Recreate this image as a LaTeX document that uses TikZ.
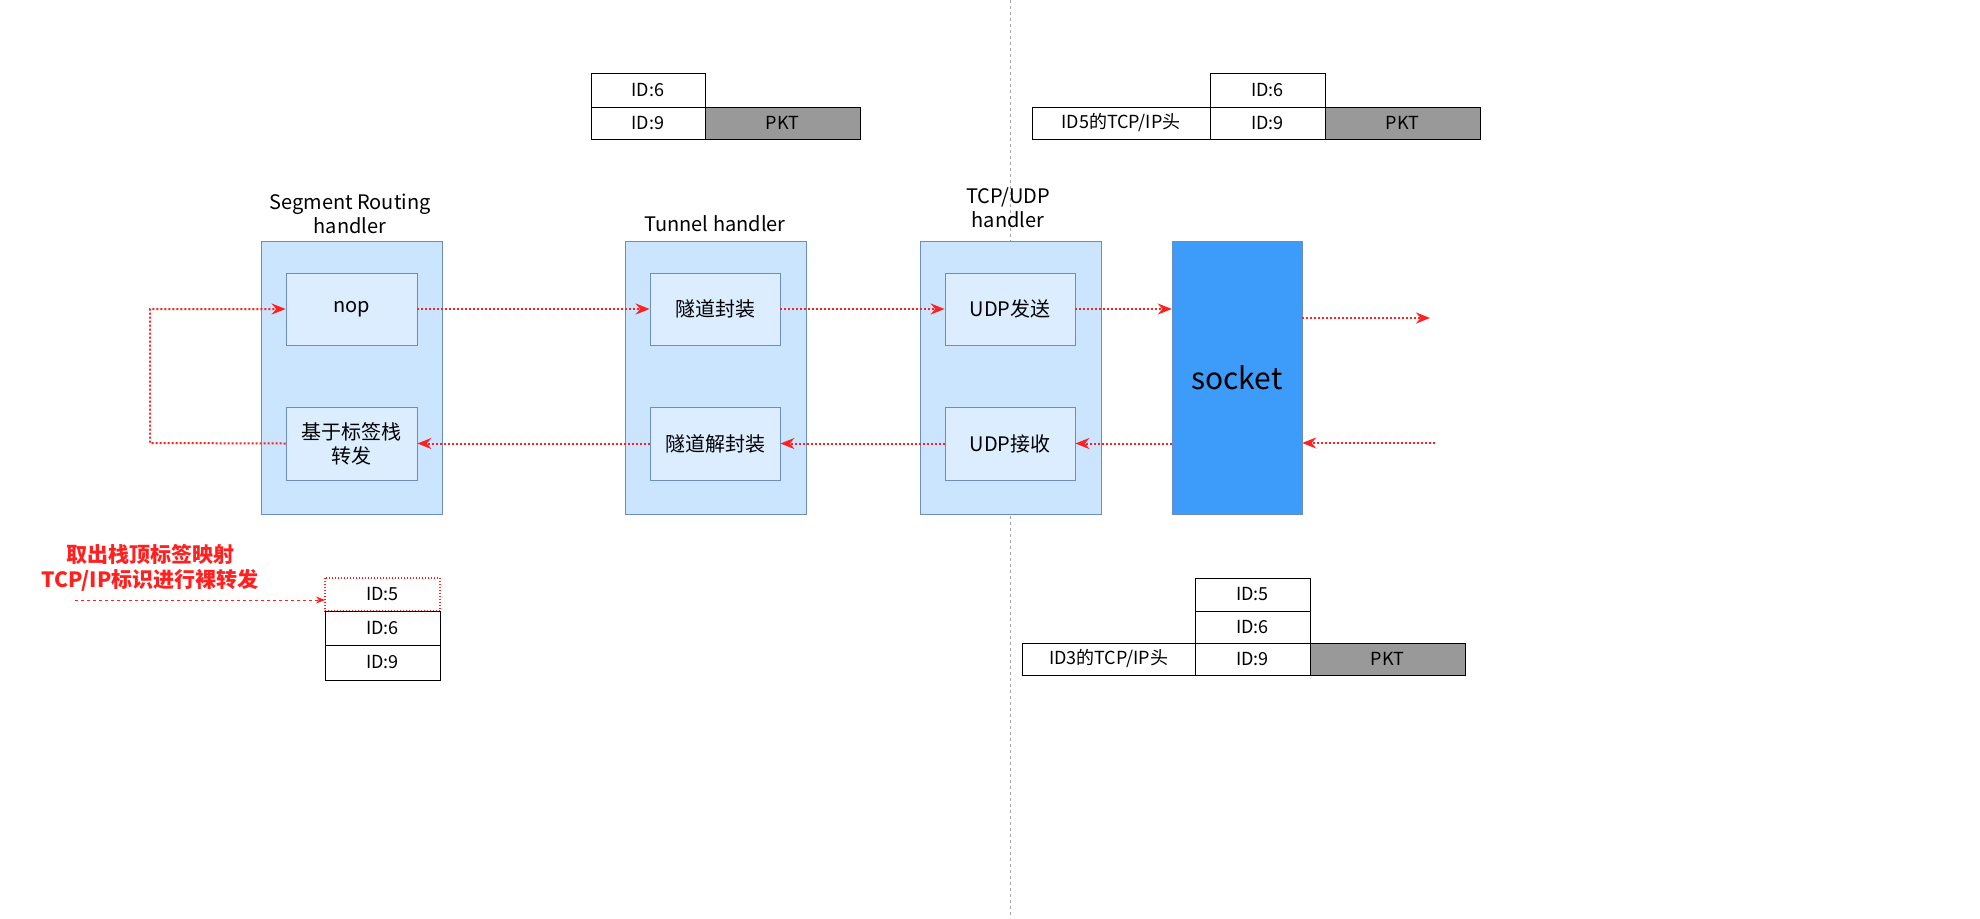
\documentclass[tikz,border=0pt]{standalone}
\usepackage{fontspec}
\setmainfont{Noto Sans CJK SC}
\usetikzlibrary{arrows.meta}
\definecolor{hfill}{HTML}{CCE5FF}
\definecolor{hline}{HTML}{6C8EBF}
\definecolor{sockfill}{HTML}{3D9BF9}
\definecolor{pktfill}{HTML}{999999}
\definecolor{flow}{HTML}{FF2020}
\begin{document}
\begin{tikzpicture}[x=1pt,y=-1pt,
  handler/.style={draw=hline, fill=hfill, line width=0.8pt},
  inner/.style={draw=hline, fill=hfill!70!white, line width=0.8pt, font=\fontsize{20}{24}\selectfont, align=center},
  cell/.style={draw=black, line width=1pt, font=\fontsize{18}{22}\selectfont},
  pkt/.style={cell, fill=pktfill},
  ttl/.style={font=\fontsize{20}{24}\selectfont, align=center},
  flow/.style={draw=flow, dotted, line width=2pt, -{Stealth[length=14pt,width=11pt]}},
  lab/.style={text=flow, font=\bfseries\fontsize{21}{25}\selectfont, align=center}]
\useasboundingbox (0,0) rectangle (1980,918);
\draw[gray!70, dashed, line width=0.7pt] (1010,0) -- (1010,918);

% top-left stack
\draw[cell] (591,73) rectangle node{ID:6} (705,107);
\draw[cell] (591,107) rectangle node{ID:9} (705,139);
\draw[pkt] (705,107) rectangle node{PKT} (860,139);
% top-right stack
\draw[cell] (1210,73) rectangle node{ID:6} (1325,107);
\draw[cell] (1210,107) rectangle node{ID:9} (1325,139);
\draw[pkt] (1325,107) rectangle node{PKT} (1480,139);
\draw[cell] (1032,107) rectangle node{ID5的TCP/IP头} (1210,139);
% bottom-right stack
\draw[cell] (1195,578) rectangle node{ID:5} (1310,611);
\draw[cell] (1195,611) rectangle node{ID:6} (1310,643);
\draw[cell] (1195,643) rectangle node{ID:9} (1310,675);
\draw[pkt] (1310,643) rectangle node{PKT} (1465,675);
\draw[cell] (1022,643) rectangle node{ID3的TCP/IP头} (1195,675);
% bottom-left stack
\draw[cell, draw=flow, dotted, line width=2pt] (325,578) rectangle node{ID:5} (440,611);
\draw[cell] (325,611) rectangle node{ID:6} (440,645);
\draw[cell] (325,645) rectangle node{ID:9} (440,680);
\node[lab] (note) at (150,568) {取出栈顶标签映射\\TCP/IP标识进行裸转发};
\coordinate (noteend) at (75,600);
\coordinate (id5) at (325,600);
\draw[flow, dashed, line width=0.8pt, -{Stealth[length=9pt,width=7pt]}] (noteend) -- (id5);

% handlers
\node[handler, minimum width=181pt, minimum height=273pt] (sr) at (351.5,377.5) {};
\node[handler, minimum width=181pt, minimum height=273pt] (tun) at (715.5,377.5) {};
\node[handler, minimum width=181pt, minimum height=273pt] (tcp) at (1010.5,377.5) {};
\node[draw=hline, fill=sockfill, minimum width=130pt, minimum height=273pt, font=\fontsize{30}{36}\selectfont] (sock) at (1237,377.5) {socket};
\node[ttl] at (350,214) {Segment Routing\\handler};
\node[ttl] at (715,224) {Tunnel handler};
\node[ttl] at (1008,208) {TCP/UDP\\handler};

\node[inner, minimum width=131pt, minimum height=72pt] (nop) at (351.5,309) {nop};
\node[inner, minimum width=131pt, minimum height=73pt] (fwd) at (351.5,443.5) {基于标签栈\\转发};
\node[inner, minimum width=130pt, minimum height=72pt] (enc) at (715,309) {隧道封装};
\node[inner, minimum width=130pt, minimum height=73pt] (dec) at (715,443.5) {隧道解封装};
\node[inner, minimum width=130pt, minimum height=72pt] (usnd) at (1010,309) {UDP发送};
\node[inner, minimum width=130pt, minimum height=73pt] (urcv) at (1010,443.5) {UDP接收};

\coordinate (outR) at (1430,318);
\coordinate (inR) at (1435,443);
\coordinate (loopB) at (150,443);
\coordinate (loopT) at (150,309);

% flows
\draw[flow] (nop.east) -- (enc.west);
\draw[flow] (enc.east) -- (usnd.west);
\draw[flow] (usnd.east) -- (sock.west |- usnd.east);
\draw[flow] (sock.east |- outR) -- (outR);
\draw[flow] (inR) -- (sock.east |- inR);
\draw[flow] (sock.west |- urcv.east) -- (urcv.east);
\draw[flow] (urcv.west) -- (dec.east);
\draw[flow] (dec.west) -- (fwd.east);
\draw[flow] (fwd.west) -- (loopB) -- (loopT) -- (nop.west);
\end{tikzpicture}
\end{document}
